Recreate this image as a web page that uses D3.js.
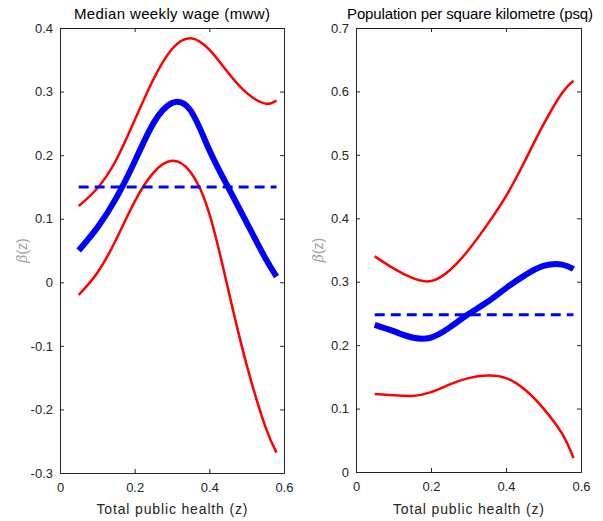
<!DOCTYPE html>
<html>
<head>
<meta charset="utf-8">
<script src="https://cdn.jsdelivr.net/npm/d3@7"></script>
<style>
  body { margin: 0; background: #fff; }
  text { font-family: "Liberation Sans", Arial, sans-serif; }
</style>
</head>
<body>
<div id="vis"></div>
<script>
// Datos
const Z = [0.05, 0.10, 0.15, 0.20, 0.25, 0.30, 0.35, 0.40, 0.45, 0.50, 0.55, 0.58];

// Panel izquierdo: mww
const mwwEst   = [0.05, 0.086, 0.132, 0.19, 0.25, 0.282, 0.27, 0.208, 0.15, 0.094, 0.038, 0.009];
const mwwUpper = [0.12, 0.148, 0.192, 0.255, 0.319, 0.367, 0.384, 0.366, 0.33, 0.298, 0.281, 0.286];
const mwwLower = [-0.02, 0.015, 0.067, 0.127, 0.172, 0.191, 0.173, 0.108, -0.01, -0.13, -0.227, -0.268];
const mwwConst = 0.15;

// Panel derecho: psq
const psqEst   = [0.232, 0.222, 0.212, 0.212, 0.228, 0.249, 0.268, 0.29, 0.31, 0.325, 0.327, 0.32];
const psqUpper = [0.34, 0.321, 0.306, 0.301, 0.318, 0.35, 0.39, 0.435, 0.49, 0.548, 0.598, 0.617];
const psqLower = [0.123, 0.121, 0.12, 0.126, 0.138, 0.148, 0.152, 0.148, 0.13, 0.1, 0.06, 0.022];
const psqConst = 0.248;

const xTicks = [0, 0.2, 0.4, 0.6];
const mwwTicks = [-0.3, -0.2, -0.1, 0, 0.1, 0.2, 0.3, 0.4];
const psqTicks = [0, 0.1, 0.2, 0.3, 0.4, 0.5, 0.6, 0.7];

const WIDTH = 603, HEIGHT = 521;
const svg = d3.select("#vis").append("svg")
    .attr("width", WIDTH)
    .attr("height", HEIGHT);

const panels = [
  { title: "Median weekly wage (mww)", titleW: 196, titleX: 172, left: 60, right: 284, top: 28, bottom: 473,
    yDomain: [-0.3, 0.4], yTicks: mwwTicks, est: mwwEst, upper: mwwUpper, lower: mwwLower, cst: mwwConst },
  { title: "Population per square kilometre (psq)", titleW: 246, titleX: 470, left: 356, right: 581, top: 28, bottom: 472,
    yDomain: [0, 0.7], yTicks: psqTicks, est: psqEst, upper: psqUpper, lower: psqLower, cst: psqConst }
];

const fmt = d => d === 0 ? "0" : String(+d.toFixed(1));

panels.forEach(p => {
  const x = d3.scaleLinear().domain([0, 0.6]).range([p.left, p.right]);
  const y = d3.scaleLinear().domain(p.yDomain).range([p.bottom, p.top]);
  const g = svg.append("g");

  // Ejes estilo MATLAB (ticks hacia dentro en los cuatro lados)
  const axes = [
    g.append("g").attr("transform", `translate(0,${p.bottom})`)
      .call(d3.axisBottom(x).tickValues(xTicks).tickSize(-4).tickPadding(10).tickFormat(fmt)),
    g.append("g").attr("transform", `translate(0,${p.top})`)
      .call(d3.axisTop(x).tickValues(xTicks).tickSize(-4).tickFormat("")),
    g.append("g").attr("transform", `translate(${p.left},0)`)
      .call(d3.axisLeft(y).tickValues(p.yTicks).tickSize(-4).tickPadding(7).tickFormat(fmt)),
    g.append("g").attr("transform", `translate(${p.right},0)`)
      .call(d3.axisRight(y).tickValues(p.yTicks).tickSize(-4).tickFormat(""))
  ];
  axes.forEach(a => {
    a.select(".domain").attr("stroke", "#262626").attr("stroke-width", 1);
    a.selectAll(".tick line").attr("stroke", "#262626");
    a.selectAll(".tick text").attr("fill", "#262626").style("font-size", "13px");
  });

  const line = vals => d3.line()
      .x((d, i) => x(Z[i]))
      .y(d => y(d))
      .curve(d3.curveNatural)(vals);

  g.append("path").attr("d", line(p.upper))
    .attr("fill", "none").attr("stroke", "#ff0000").attr("stroke-width", 2.5);
  g.append("path").attr("d", line(p.lower))
    .attr("fill", "none").attr("stroke", "#ff0000").attr("stroke-width", 2.5);
  g.append("path").attr("d", line(p.est))
    .attr("fill", "none").attr("stroke", "#0000ff").attr("stroke-width", 6);
  g.append("line")
    .attr("x1", x(Z[0])).attr("x2", x(Z[Z.length - 1]))
    .attr("y1", y(p.cst)).attr("y2", y(p.cst))
    .attr("stroke", "#0000ff").attr("stroke-width", 3)
    .attr("stroke-dasharray", "10,6");

  // Títulos y etiquetas
  svg.append("text")
    .attr("x", p.titleX).attr("y", 19)
    .attr("text-anchor", "middle")
    .attr("textLength", p.titleW).attr("lengthAdjust", "spacing")
    .style("font-size", "15px").attr("fill", "#000")
    .text(p.title);

  svg.append("text")
    .attr("x", (p.left + p.right) / 2).attr("y", 514)
    .attr("text-anchor", "middle")
    .attr("textLength", 151).attr("lengthAdjust", "spacing")
    .style("font-size", "14px").attr("fill", "#262626")
    .text("Total public health (z)");

  svg.append("text")
    .attr("transform", `translate(${p.left - 33},${(p.top + p.bottom) / 2}) rotate(-90)`)
    .attr("text-anchor", "middle")
    .style("font-size", "14px").attr("fill", "#a0a0a0")
    .html('<tspan font-style="italic" font-family="DejaVu Serif, serif">β</tspan>(z)');
});
</script>
</body>
</html>
